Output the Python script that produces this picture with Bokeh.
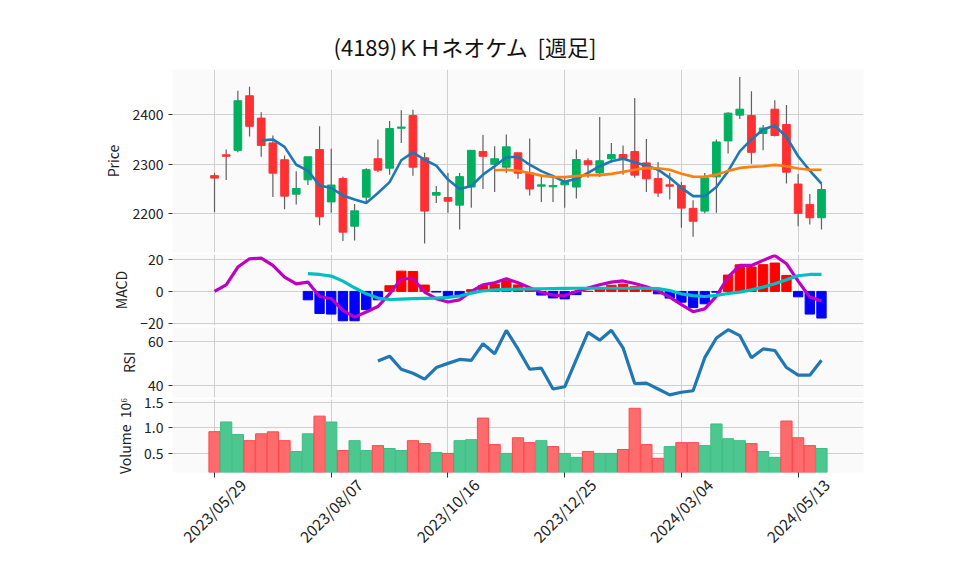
import math
from bokeh.plotting import figure
from bokeh.layouts import column
from bokeh.models import Range1d, FixedTicker, ColumnDataSource, NumeralTickFormatter, LinearAxis
from bokeh.embed import file_html
from bokeh.resources import INLINE

FONT = "Noto Sans CJK JP"

title_text = "(4189)ＫＨネオケム\u00a0\u00a0[週足]"
tick_index = [0, 10, 20, 30, 40, 50]
tick_labels = ["2023/05/29", "2023/08/07", "2023/10/16", "2023/12/25", "2024/03/04", "2024/05/13"]

opens = [2277, 2319, 2328, 2438, 2393, 2343, 2309, 2239.6, 2268.5, 2329.5,
         2224, 2271, 2175, 2233.6, 2311, 2292, 2372.5, 2398, 2313, 2237.6,
         2233, 2217.5, 2254, 2325.5, 2300, 2294, 2323, 2282.5, 2255.7, 2254.4,
         2258.4, 2254, 2307, 2282.5, 2311, 2319.5, 2325.5, 2302.7, 2271, 2258.4,
         2257, 2211, 2205.5, 2274.5, 2347, 2399, 2398, 2362, 2411, 2380,
         2260, 2219, 2192]
highs = [2283, 2329.5, 2448, 2456, 2405, 2358, 2317.5, 2286, 2315, 2376.5,
         2331, 2274.5, 2220, 2292, 2350, 2387, 2409, 2410, 2323, 2256,
         2282.5, 2282.5, 2328, 2359, 2336, 2360, 2323, 2352, 2279, 2279,
         2276, 2329.5, 2312, 2395, 2343, 2337.6, 2433.5, 2351, 2304.7, 2282.5,
         2264, 2227.5, 2282.5, 2350, 2405, 2476, 2447, 2379, 2429, 2419.5,
         2280.5, 2240, 2261]
lows = [2203, 2268, 2324, 2356, 2315, 2234, 2209, 2219, 2258, 2177,
        2202, 2145, 2146, 2222, 2284, 2279, 2343, 2277, 2140, 2222,
        2202, 2168.5, 2212, 2250, 2244, 2282.5, 2270.5, 2237, 2224, 2224,
        2212, 2231, 2272.5, 2274, 2303, 2279, 2272.5, 2244, 2234, 2229,
        2172, 2154, 2201, 2202, 2321.5, 2391, 2301, 2328, 2356, 2261,
        2175, 2178.5, 2168.5]
closes = [2272, 2316, 2428, 2376.5, 2338, 2282, 2235.6, 2251, 2315, 2194,
          2258, 2163, 2206, 2289, 2288, 2372, 2375, 2294, 2205.5, 2243,
          2225.5, 2275, 2328, 2316, 2311, 2335, 2282, 2250, 2258.4, 2257,
          2264, 2309.4, 2299, 2307, 2319.5, 2311, 2278, 2270.5, 2242, 2255.7,
          2211.5, 2185, 2272.5, 2345, 2403, 2411, 2324, 2373, 2358, 2284,
          2201, 2192, 2249]
volumes = [920000, 1110000, 865000, 744000, 878000, 917000, 744000, 532000, 878000, 1224000,
           1109000, 551000, 744000, 551000, 647000, 590000, 551000, 744000, 686000, 513000,
           494000, 744000, 763000, 1186000, 667000, 494000, 801000, 705000, 744000, 628000,
           494000, 417000, 532000, 494000, 494000, 571000, 1378000, 667000, 397000, 628000,
           705000, 705000, 647000, 1071000, 782000, 744000, 686000, 532000, 417000, 1128000,
           801000, 647000, 590000]
# 1 = price closed above previous close (volume bar colour as drawn)
vol_dir = [0, 1, 1, 0, 0, 0, 0, 1, 1, 0,
           1, 0, 1, 1, 0, 1, 1, 0, 0, 1,
           0, 1, 1, 0, 0, 1, 0, 0, 1, 0,
           1, 1, 0, 1, 1, 0, 0, 0, 0, 1,
           0, 0, 1, 1, 1, 1, 0, 1, 1, 0,
           0, 0, 1]
ma5 = [2348, 2350, 2335, 2299, 2287, 2257, 2252, 2237, 2229, 2222,
       2242, 2264, 2308, 2324, 2309, 2297, 2269, 2250, 2256, 2279,
       2296, 2314, 2315, 2299, 2286, 2276, 2264.5, 2270.5, 2282.5, 2296,
       2306, 2311, 2304, 2297, 2289, 2272.5, 2252.4, 2235.6, 2235.6, 2254,
       2286, 2326, 2350, 2370, 2378, 2355, 2316, 2287, 2261]
ma25 = [2288, 2289, 2287, 2282.5, 2277, 2274.5, 2274, 2276, 2278, 2278,
        2280.6, 2284.6, 2289, 2292.6, 2292, 2289, 2280.6, 2275, 2274.5, 2279,
        2286.6, 2292.6, 2294.7, 2296, 2298.7, 2296, 2291.3, 2289, 2289]
macd = [0.0, 4.2, 15.4, 20.6, 21.0, 16.4, 9.0, 4.8, 5.9, -3.2,
        -4.6, -12.0, -16.2, -13.0, -9.5, -1.5, 8.0, 8.0, -0.4, -4.6,
        -6.7, -5.3, 0.0, 4.2, 5.5, 8.0, 5.5, 2.3, -0.6, -2.3,
        -2.8, 0.0, 2.1, 4.2, 5.9, 6.6, 5.0, 3.0, 0.3, -3.6,
        -8.3, -12.8, -11.0, -3.0, 9.0, 16.4, 16.4, 19.6, 22.7, 17.5,
        6.5, -3.6, -6.1]
signal = [11.2, 10.7, 9.7, 6.5, 2.3, -1.5, -4.2, -5.1, -4.8, -4.6,
          -4.4, -4.2, -3.8, -2.9, -1.1, 0.4, 1.0, 1.3, 1.4, 1.6,
          1.7, 1.8, 1.9, 2.0, 2.0, 2.0, 2.0, 2.0, 2.0, 2.0,
          1.8, 0.6, -1.5, -2.6, -3.2, -2.5, -1.3, -0.4, 1.0, 2.7,
          4.8, 7.4, 9.9, 10.7, 10.7]
rsi = [51.0, 53.2, 47.2, 45.4, 42.7, 48.0, 49.9, 51.7, 51.3, 58.9,
       54.3, 65.0, 56.5, 47.2, 47.7, 38.2, 39.2, 51.7, 64.1, 60.5,
       65.0, 57.0, 40.7, 40.9, 38.2, 35.5, 36.7, 37.4, 52.5, 61.5,
       65.3, 62.6, 52.5, 56.5, 55.8, 48.0, 44.5, 44.5, 51.3]

n = len(closes)
xs = list(range(n))

UP, DOWN = "#00b060", "#fe3032"
VUP, VDOWN = "#4dc790", "#fd6b6c"
VUP_E, VDOWN_E = "#3dbd84", "#fd4a4c"

xr = Range1d(-3.6, 55.6)
E = 12          # transparent padding so edge tick labels are not clipped
LABEL_SHIFT = 2.4  # rotated date labels are centred on their tick (as in the reference)


def make(height, top, bottom, yr, yticks, ylabel, show_x=False):
    p = figure(width=958, height=height, x_range=xr, y_range=Range1d(*yr),
               output_backend="svg", toolbar_location=None,
               x_axis_location="below" if show_x else None,
               min_border_left=172, min_border_right=95,
               min_border_top=top, min_border_bottom=bottom)
    p.background_fill_color = "#fafafa"
    p.border_fill_color = None
    p.outline_line_color = None
    p.xgrid.ticker = FixedTicker(ticks=tick_index)
    p.ygrid.ticker = FixedTicker(ticks=yticks)
    p.xgrid.grid_line_color = "#d0d0d0"
    p.ygrid.grid_line_color = "#d0d0d0"
    p.xgrid.grid_line_width = 1
    p.ygrid.grid_line_width = 1
    ax = p.yaxis[0]
    ax.ticker = FixedTicker(ticks=yticks)
    ax.axis_line_color = None
    ax.major_tick_line_color = "#333333"
    ax.major_tick_out = 4
    ax.major_tick_in = 0
    ax.minor_tick_line_color = None
    ax.major_label_text_font = FONT
    ax.major_label_text_font_size = "14px"
    ax.major_label_text_color = "#222222"
    ax.axis_label = ylabel
    ax.axis_label_text_font = FONT
    ax.axis_label_text_font_size = "14px"
    ax.axis_label_text_font_style = "normal"
    ax.axis_label_text_color = "#222222"
    ax.axis_label_standoff = 6
    if show_x:
        # tick marks
        xa = p.xaxis[0]
        xa.ticker = FixedTicker(ticks=tick_index)
        xa.major_label_overrides = {i: "" for i in tick_index}
        xa.major_label_standoff = 0
        xa.major_label_text_font_size = "1px"
        xa.axis_line_color = None
        xa.major_tick_line_color = "#333333"
        xa.major_tick_out = 5
        xa.major_tick_in = 0
        xa.minor_tick_line_color = None
        # rotated date labels
        pos = [i + LABEL_SHIFT for i in tick_index]
        lab = LinearAxis(ticker=FixedTicker(ticks=pos),
                         major_label_overrides={q: s for q, s in zip(pos, tick_labels)},
                         major_label_orientation=math.pi / 4,
                         major_label_standoff=4,
                         major_tick_out=0, major_tick_in=0,
                         major_tick_line_color=None, minor_tick_line_color=None,
                         axis_line_color=None,
                         major_label_text_font=FONT, major_label_text_font_size="15.5px",
                         major_label_text_color="#222222")
        p.add_layout(lab, "below")
    return p


# ---- price panel ----
p1 = make(252 + E, 69, E, (2122, 2491), [2200, 2300, 2400], "Price")
p1.title.text = title_text
p1.title.text_font = FONT
p1.title.text_font_size = "22px"
p1.title.text_font_style = "normal"
p1.title.text_color = "#111111"
p1.title.align = "left"
p1.title.offset = 161
p1.title.standoff = 16

body_top = [max(o, c) for o, c in zip(opens, closes)]
body_bot = [min(o, c) for o, c in zip(opens, closes)]
ccol = [UP if c >= o else DOWN for o, c in zip(opens, closes)]
src = ColumnDataSource(dict(x=xs, o=opens, h=highs, l=lows, c=closes,
                            top=body_top, bot=body_bot, col=ccol))
p1.segment(x0="x", y0="l", x1="x", y1="h", source=src, line_color="#606060", line_width=1.2)
p1.vbar(x="x", width=0.66, top="top", bottom="bot", source=src,
        fill_color="col", line_color="col", line_width=1)
p1.line(list(range(n - len(ma5), n)), ma5, line_color="#1f77b4", line_width=2.6)
p1.line(list(range(n - len(ma25), n)), ma25, line_color="#ff7f0e", line_width=2.6)

# ---- MACD panel ----
p2 = make(71 + 2 * E, E, E, (-21.5, 23.3), [-20, 0, 20], "MACD")
p2.yaxis[0].major_label_overrides = {-20: "\u221220", 0: "0", 20: "20"}
sx = list(range(n - len(signal), n))
hist = [macd[i] - s for i, s in zip(sx, signal)]
hcol = ["#ff0000" if h >= 0 else "#0000ff" for h in hist]
p2.vbar(x=sx, width=0.8, top=hist, bottom=0, fill_color=hcol, line_color=hcol)
p2.line(xs, macd, line_color="#bf00bf", line_width=3.2)
p2.line(sx, signal, line_color="#00bfbf", line_width=3.2)
p2.margin = (2 - 2 * E, 0, 0, 0)

# ---- RSI panel ----
p3 = make(70 + 2 * E, E, E, (34.3, 66.3), [40, 60], "RSI")
p3.line(list(range(n - len(rsi), n)), rsi, line_color="#1f77b4", line_width=3.2)
p3.margin = (2 - 2 * E, 0, 0, 0)

# ---- Volume panel ----
p4 = make(176 + E, E, 103, (0.12, 1.55), [0.5, 1.0, 1.5], "Volume\u00a0\u00a010\u2076", show_x=True)
p4.yaxis[0].formatter = NumeralTickFormatter(format="0.0")
vfill = [VUP if d else VDOWN for d in vol_dir]
vedge = [VUP_E if d else VDOWN_E for d in vol_dir]
p4.vbar(x=xs, width=0.96, top=[v / 1e6 for v in volumes], bottom=0,
        fill_color=vfill, line_color=vedge, line_width=1)
p4.margin = (2 - 2 * E, 0, 0, 0)

layout = column(p1, p2, p3, p4, spacing=0)
open("out.html", "w").write(file_html(layout, INLINE))
